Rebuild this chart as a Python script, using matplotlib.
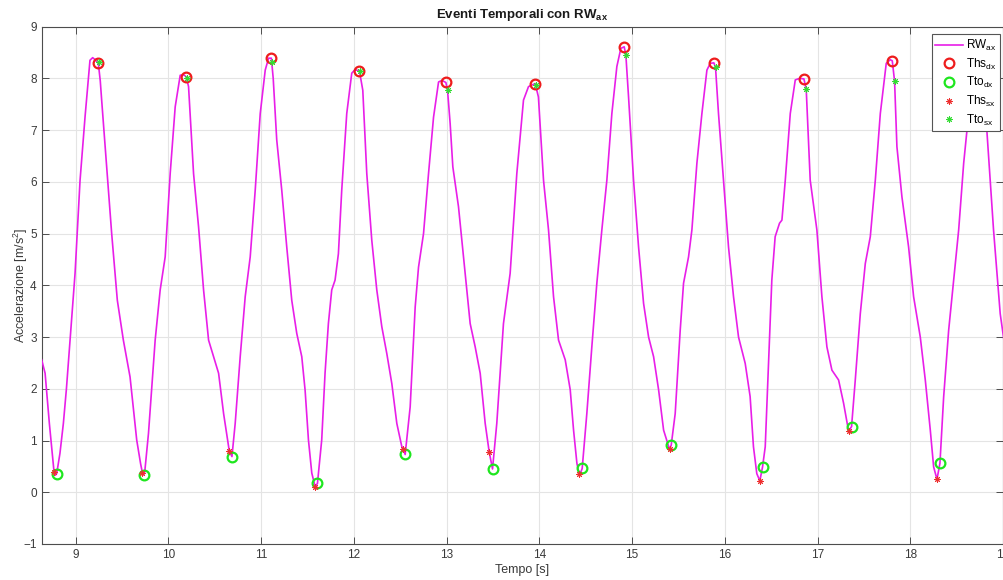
import matplotlib
matplotlib.use("Agg")
import matplotlib.pyplot as plt

plt.rcParams['font.family'] = ['Liberation Sans', 'DejaVu Sans']
plt.rcParams['mathtext.fontset'] = 'custom'
plt.rcParams['mathtext.rm'] = 'Liberation Sans'
plt.rcParams['mathtext.it'] = 'Liberation Sans:italic'
plt.rcParams['mathtext.bf'] = 'Liberation Sans:bold'
plt.rcParams['mathtext.default'] = 'rm'

# Acceleration signal RW_ax (time [s], acceleration [m/s^2])
t_sig = [8.633, 8.67, 8.716, 8.766, 8.78, 8.795, 8.83, 8.867, 8.90, 8.939, 8.993,
         9.047, 9.101, 9.154, 9.183, 9.21, 9.244, 9.265, 9.280, 9.334, 9.388, 9.449,
         9.514, 9.586, 9.658, 9.70, 9.72, 9.733, 9.745, 9.785, 9.857, 9.911, 9.965,
         10.019, 10.073, 10.127, 10.163, 10.192, 10.217, 10.271, 10.325, 10.379, 10.433,
         10.487, 10.541, 10.595, 10.656, 10.685, 10.72, 10.774, 10.828, 10.882, 10.936,
         10.990, 11.044, 11.08, 11.11, 11.13, 11.168, 11.222, 11.276, 11.330, 11.384,
         11.438, 11.474, 11.510, 11.546, 11.582, 11.607, 11.653, 11.689, 11.725, 11.761,
         11.797, 11.833, 11.869, 11.923, 11.977, 12.013, 12.060, 12.096, 12.139, 12.193,
         12.247, 12.301, 12.355, 12.409, 12.463, 12.517, 12.535, 12.553, 12.607, 12.661,
         12.697, 12.751, 12.805, 12.859, 12.913, 12.949, 12.992, 13.01, 13.038, 13.067,
         13.128, 13.2, 13.254, 13.308, 13.362, 13.416, 13.459, 13.495, 13.541, 13.613,
         13.685, 13.757, 13.829, 13.883, 13.955, 13.99, 14.045, 14.099, 14.153, 14.207,
         14.279, 14.333, 14.369, 14.405, 14.429, 14.445, 14.462, 14.512, 14.566, 14.620,
         14.674, 14.728, 14.782, 14.836, 14.879, 14.915, 14.933, 14.962, 15.016, 15.07,
         15.124, 15.178, 15.232, 15.286, 15.34, 15.404, 15.422, 15.465, 15.519, 15.555,
         15.609, 15.645, 15.699, 15.753, 15.807, 15.843, 15.882, 15.9, 15.932, 15.986,
         16.04, 16.094, 16.148, 16.22, 16.273, 16.309, 16.345, 16.378, 16.407, 16.436,
         16.471, 16.507, 16.543, 16.59, 16.616, 16.652, 16.706, 16.76, 16.806, 16.853,
         16.878, 16.921, 16.993, 17.047, 17.101, 17.155, 17.227, 17.281, 17.335, 17.367,
         17.407, 17.461, 17.515, 17.569, 17.623, 17.677, 17.741, 17.784, 17.806, 17.831,
         17.856, 17.91, 17.982, 18.036, 18.108, 18.162, 18.216, 18.252, 18.288, 18.32,
         18.36, 18.414, 18.468, 18.522, 18.576, 18.619, 18.70, 18.75, 18.79, 18.826,
         18.898, 18.97, 19.01]
a_sig = [2.56, 2.30, 1.33, 0.40, 0.33, 0.36, 0.75, 1.33, 2.0, 2.94, 4.23,
         6.03, 7.26, 8.35, 8.40, 8.36, 8.29, 7.95, 7.58, 6.29, 5.00, 3.71,
         2.94, 2.23, 1.01, 0.55, 0.37, 0.34, 0.40, 1.14, 2.94, 3.91, 4.55,
         6.16, 7.45, 8.06, 8.07, 8.03, 7.84, 6.16, 5.13, 3.91, 2.94,
         2.62, 2.30, 1.52, 0.80, 0.69, 1.33, 2.62, 3.78, 4.55, 5.84,
         7.32, 8.16, 8.39, 8.39, 8.0, 6.81, 5.84, 4.74, 3.71, 3.07,
         2.62, 1.97, 1.01, 0.37, 0.11, 0.17, 1.01, 2.30, 3.26, 3.91,
         4.10, 4.61, 5.84, 7.32, 8.10, 8.17, 8.14, 7.77, 6.16, 4.87,
         3.91, 3.20, 2.68, 2.10, 1.33, 0.88, 0.83, 0.73, 1.65, 3.58,
         4.35, 5.00, 6.16, 7.25, 7.93, 7.96, 7.92, 7.77, 7.13, 6.29,
         5.52, 4.23, 3.26, 2.81, 2.30, 1.33, 0.78, 0.45, 1.33, 3.26,
         4.23, 6.16, 7.58, 7.84, 7.90, 7.64, 6.03, 5.07, 3.78, 2.94,
         2.56, 1.98, 1.20, 0.56, 0.35, 0.38, 0.46, 1.52, 2.81, 4.04,
         5.07, 6.03, 7.32, 8.23, 8.58, 8.61, 8.45, 7.64, 6.03, 4.74,
         3.65, 3.00, 2.62, 1.98, 1.20, 0.83, 0.91, 1.52, 3.13, 4.04,
         4.55, 5.07, 6.36, 7.32, 8.16, 8.29, 8.30, 8.21, 7.32, 6.03,
         4.74, 3.78, 3.00, 2.49, 1.85, 0.88, 0.36, 0.22, 0.49, 0.88,
         2.49, 4.10, 4.94, 5.20, 5.26, 6.03, 7.32, 7.97, 8.00, 7.99,
         7.79, 6.03, 5.07, 3.78, 2.81, 2.36, 2.17, 1.72, 1.18, 1.27,
         2.17, 3.45, 4.42, 4.94, 6.03, 7.32, 8.29, 8.36, 8.34, 7.94,
         6.68, 5.71, 4.74, 3.78, 3.00, 2.17, 1.20, 0.49, 0.25, 0.56,
         1.84, 3.13, 4.10, 5.07, 6.36, 7.13, 8.10, 8.35, 7.90, 6.99,
         5.07, 3.45, 2.94]

# Heel strike, right foot
t_ths_dx = [9.244, 10.192, 11.11, 12.06, 12.992, 13.955, 14.915, 15.882, 16.853, 17.806]
a_ths_dx = [8.29, 8.03, 8.39, 8.14, 7.92, 7.90, 8.61, 8.30, 7.99, 8.34]

# Toe off, right foot
t_tto_dx = [8.795, 9.733, 10.685, 11.607, 12.553, 13.495, 14.462, 15.422, 16.407, 17.367, 18.32]
a_tto_dx = [0.36, 0.34, 0.69, 0.17, 0.73, 0.45, 0.46, 0.91, 0.49, 1.27, 0.56]

# Heel strike, left foot
t_ths_sx = [8.766, 9.72, 10.656, 11.582, 12.535, 13.459, 14.429, 15.404, 16.378, 17.335, 18.288]
a_ths_sx = [0.40, 0.37, 0.80, 0.11, 0.83, 0.78, 0.35, 0.83, 0.22, 1.18, 0.25]

# Toe off, left foot
t_tto_sx = [9.25, 10.197, 11.12, 12.063, 13.01, 13.96, 14.933, 15.9, 16.878, 17.831]
a_tto_sx = [8.31, 8.01, 8.32, 8.15, 7.77, 7.88, 8.45, 8.21, 7.79, 7.94]

x_ticks = [9, 10, 11, 12, 13, 14, 15, 16, 17, 18, 19]
y_ticks = [-1, 0, 1, 2, 3, 4, 5, 6, 7, 8, 9]

fig = plt.figure(figsize=(10.04, 5.8), dpi=100)
ax = fig.add_axes([0.0415, 0.0621, 0.9575, 0.892])

axis_col = '#4d4d4d'
asterisk = (8, 2, 0)
ax.plot(t_sig, a_sig, color='#e81ee8', lw=1.2, label='RW$_{ax}$', zorder=3)
ax.plot(t_ths_dx, a_ths_dx, 'o', ms=7, mfc='none', mec='#ee1c1c', mew=1.6,
        label='Ths$_{dx}$', zorder=4)
ax.plot(t_tto_dx, a_tto_dx, 'o', ms=7, mfc='none', mec='#1ee61e', mew=1.6,
        label='Tto$_{dx}$', zorder=4)
ax.plot(t_ths_sx, a_ths_sx, ls='none', marker=asterisk, ms=4.5, mec='#ee3030',
        mew=0.7, label='Ths$_{sx}$', zorder=5)
ax.plot(t_tto_sx, a_tto_sx, ls='none', marker=asterisk, ms=4.5, mec='#33dd33',
        mew=0.7, label='Tto$_{sx}$', zorder=5)

ax.set_xlim(8.633, 19.0)
ax.set_ylim(-1, 9)
ax.set_xticks(x_ticks)
ax.set_yticks(y_ticks)
ax.grid(True, color='#e4e4e4', lw=0.8)
ax.set_axisbelow(True)
ax.tick_params(direction='in', length=5, width=0.7, colors=axis_col,
               labelsize=8.5, top=True, right=True, labelcolor='#3a3a3a')
for s in ax.spines.values():
    s.set_color(axis_col)
    s.set_linewidth(0.8)

ax.set_title('Eventi Temporali con RW$_{\\mathbf{ax}}$', fontsize=9.5,
             fontweight='bold', color='#1a1a1a', pad=6)
ax.set_xlabel('Tempo [s]', fontsize=9, color='#3a3a3a', labelpad=2)
ax.set_ylabel('Accelerazione [m/s$^2$]', fontsize=9, color='#3a3a3a')
ax.yaxis.set_label_coords(-0.0125, 0.5)

leg = ax.legend(loc='upper right', bbox_to_anchor=(0.9965, 0.985), fontsize=8.5,
                frameon=True, fancybox=False, borderpad=0.3, labelspacing=0.3,
                handlelength=2.4, handletextpad=0.2, borderaxespad=0.0)
leg.get_frame().set_edgecolor('#555555')
leg.get_frame().set_linewidth(0.8)
leg.get_frame().set_alpha(1.0)
leg.set_zorder(10)

fig.savefig('out.png', dpi=100)
